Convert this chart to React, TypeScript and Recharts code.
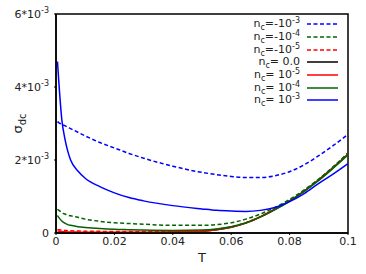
import { Line, LineChart, ReferenceArea, XAxis, YAxis } from 'recharts';

// temperature grid
const T = [
  0.0005, 0.001, 0.002, 0.003, 0.004, 0.005, 0.0075, 0.01, 0.015, 0.02, 0.025, 0.03,
  0.04, 0.05, 0.055, 0.06, 0.065, 0.07, 0.075, 0.08, 0.085, 0.09, 0.095, 0.1,
];

// sigma_dc in units of 1e-3
const nNeg3 = [3.05, 3.02, 2.98, 2.94, 2.9, 2.86, 2.76, 2.66, 2.48, 2.33, 2.18, 2.05, 1.83, 1.66, 1.6, 1.55, 1.52, 1.52, 1.57, 1.68, 1.87, 2.12, 2.4, 2.7];
const nNeg4 = [0.65, 0.62, 0.56, 0.52, 0.49, 0.47, 0.43, 0.38, 0.32, 0.28, 0.26, 0.24, 0.21, 0.21, 0.23, 0.28, 0.38, 0.52, 0.7, 0.92, 1.18, 1.48, 1.82, 2.2];
const nNeg5 = [0.1, 0.09, 0.08, 0.07, 0.065, 0.06, 0.055, 0.05, 0.045, 0.04, 0.04, 0.04, 0.04, 0.06, 0.1, 0.17, 0.28, 0.45, 0.66, 0.89, 1.16, 1.47, 1.81, 2.17];
const nZero = [0.01, 0.01, 0.01, 0.01, 0.01, 0.01, 0.01, 0.01, 0.01, 0.01, 0.01, 0.01, 0.02, 0.05, 0.09, 0.16, 0.27, 0.44, 0.65, 0.88, 1.15, 1.46, 1.8, 2.16];
const nPos5 = [0.06, 0.05, 0.04, 0.035, 0.03, 0.03, 0.025, 0.02, 0.02, 0.02, 0.02, 0.02, 0.03, 0.05, 0.09, 0.16, 0.27, 0.44, 0.65, 0.88, 1.15, 1.46, 1.8, 2.16];
const nPos4 = [0.48, 0.42, 0.33, 0.27, 0.23, 0.21, 0.17, 0.15, 0.12, 0.1, 0.09, 0.08, 0.07, 0.08, 0.11, 0.17, 0.28, 0.44, 0.64, 0.87, 1.14, 1.44, 1.78, 2.14];
const nPos3 = [4.7, 4.1, 3.1, 2.6, 2.25, 2.0, 1.7, 1.5, 1.27, 1.1, 0.97, 0.88, 0.75, 0.66, 0.62, 0.6, 0.59, 0.62, 0.7, 0.86, 1.08, 1.36, 1.62, 1.9];

const X_TICKS = [0, 0.02, 0.04, 0.06, 0.08, 0.1];
const Y_TICKS = [0, 2, 4, 6];

const SERIES = [
  { key: 'nNeg3', values: nNeg3, color: '#0000ff', dashed: true, label: '=-10', exp: '-3' },
  { key: 'nNeg4', values: nNeg4, color: '#006400', dashed: true, label: '=-10', exp: '-4' },
  { key: 'nNeg5', values: nNeg5, color: '#ff0000', dashed: true, label: '=-10', exp: '-5' },
  { key: 'nZero', values: nZero, color: '#000000', dashed: false, label: '= 0.0', exp: '' },
  { key: 'nPos5', values: nPos5, color: '#ff0000', dashed: false, label: '= 10', exp: '-5' },
  { key: 'nPos4', values: nPos4, color: '#006400', dashed: false, label: '= 10', exp: '-4' },
  { key: 'nPos3', values: nPos3, color: '#0000ff', dashed: false, label: '= 10', exp: '-3' },
];

// draw order: small-n curves first, blue on top
const DRAW_ORDER = ['nZero', 'nPos5', 'nNeg5', 'nPos4', 'nNeg4', 'nNeg3', 'nPos3'];

const data = T.map((t, i) => {
  const row: Record<string, number> = { T: t };
  SERIES.forEach((s) => {
    row[s.key] = s.values[i];
  });
  return row;
});

const FONT = '"DejaVu Sans", sans-serif';

function YTick({ x, y, payload }: any) {
  const v = payload.value;
  return (
    <text x={x - 3} y={y + 4} textAnchor="end" fontSize={11} fill="#222" fontFamily={FONT}>
      {v === 0 ? (
        '0'
      ) : (
        <>
          <tspan>{`${v}*10`}</tspan>
          <tspan dy={-5} fontSize={8}>-3</tspan>
        </>
      )}
    </text>
  );
}

function LegendBox() {
  return (
    <div style={{ position: 'absolute', top: 18, right: 27, fontFamily: FONT, fontSize: 11, color: '#222' }}>
      {SERIES.map((s) => (
        <div key={s.key} style={{ display: 'flex', alignItems: 'center', justifyContent: 'flex-end', height: 12.7 }}>
          <span style={{ whiteSpace: 'nowrap', lineHeight: '11px' }}>
            n<span style={{ fontSize: 8, position: 'relative', top: 3 }}>c</span>
            {s.label}
            {s.exp && <span style={{ fontSize: 8, position: 'relative', top: -4 }}>{s.exp}</span>}
          </span>
          <svg width={33} height={6} style={{ marginLeft: 6 }}>
            <line
              x1={1}
              x2={32}
              y1={3}
              y2={3}
              stroke={s.color}
              strokeWidth={1.5}
              strokeDasharray={s.dashed ? '4 2.5' : undefined}
            />
          </svg>
        </div>
      ))}
    </div>
  );
}

export default function App() {
  const ordered = DRAW_ORDER.map((k) => SERIES.find((s) => s.key === k)!);
  return (
    <div style={{ position: 'relative', width: 366, height: 274, background: '#fff' }}>
      <style>{'body{margin:0}'}</style>
      <LineChart width={366} height={274} data={data} margin={{ top: 14, right: 18, left: 0, bottom: 0 }}>
        <XAxis
          dataKey="T"
          type="number"
          domain={[0, 0.1]}
          ticks={X_TICKS}
          tickFormatter={(v: number) => (v === 0 ? '0' : String(v))}
          height={41}
          axisLine={{ stroke: '#000', strokeWidth: 1.5 }}
          tickLine={{ stroke: '#000' }}
          tickSize={2}
          tick={{ fill: '#222', fontSize: 11, fontFamily: FONT }}
          label={{ value: 'T', position: 'insideBottom', offset: 12, fill: '#222', fontSize: 13, fontFamily: FONT }}
        />
        <YAxis
          type="number"
          domain={[0, 6]}
          ticks={Y_TICKS}
          width={56}
          axisLine={{ stroke: '#000', strokeWidth: 1.5 }}
          tickLine={{ stroke: '#000' }}
          tickSize={2}
          tick={<YTick />}
          label={({ viewBox }: any) => (
            <text
              transform={`translate(22, ${viewBox.y + viewBox.height / 2}) rotate(-90)`}
              textAnchor="middle"
              fontSize={13}
              fill="#222"
              fontFamily={FONT}
            >
              σ<tspan dy={4} fontSize={10}>dc</tspan>
            </text>
          )}
        />
        <ReferenceArea x1={0} x2={0.1} y1={0} y2={6} fill="none" stroke="#000" strokeWidth={1.5} />
        {ordered.map((s) => (
          <Line
            key={s.key}
            dataKey={s.key}
            type="monotone"
            stroke={s.color}
            strokeWidth={1.5}
            strokeDasharray={s.dashed ? '4 2.5' : undefined}
            dot={false}
            isAnimationActive={false}
          />
        ))}
      </LineChart>
      <LegendBox />
    </div>
  );
}
